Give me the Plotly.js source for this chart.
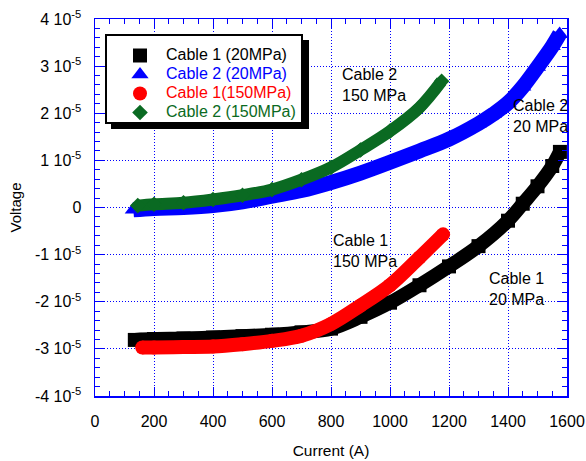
<!DOCTYPE html>
<html><head><meta charset="utf-8">
<script src="https://cdn.plot.ly/plotly-3.0.1.min.js"></script>
<style>html,body{margin:0;padding:0;background:#fff}#chart{width:586px;height:461px}</style>
</head><body><div id="chart"></div>
<script>
// Series names
const names = ['Cable 1 (20MPa)', 'Cable 2 (20MPa)', 'Cable 1(150MPa)', 'Cable 2 (150MPa)'];
// Cable 1 (20MPa)
const c1_20_x = [135, 200, 300, 400, 500, 600, 700, 800, 900, 1000, 1100, 1200, 1300, 1400, 1450, 1500, 1550, 1576];
const c1_20_y = [-2.81e-5, -2.79e-5, -2.78e-5, -2.76e-5, -2.73e-5, -2.70e-5, -2.65e-5, -2.57e-5, -2.32e-5, -2.02e-5, -1.65e-5, -1.25e-5, -0.82e-5, -0.28e-5, 0.08e-5, 0.45e-5, 0.88e-5, 1.18e-5];
// Cable 2 (20MPa)
const c2_20_x = [130, 200, 300, 400, 500, 600, 700, 800, 900, 1000, 1100, 1200, 1300, 1350, 1400, 1450, 1500, 1550, 1575];
const c2_20_y = [-0.05e-5, -0.02e-5, 0.0, 0.04e-5, 0.12e-5, 0.24e-5, 0.36e-5, 0.53e-5, 0.73e-5, 0.96e-5, 1.2e-5, 1.45e-5, 1.78e-5, 1.98e-5, 2.22e-5, 2.56e-5, 2.98e-5, 3.42e-5, 3.68e-5];
// Cable 1 (150MPa)
const c1_150_x = [160, 200, 300, 400, 500, 600, 700, 800, 900, 1000, 1100, 1180];
const c1_150_y = [-2.97e-5, -2.97e-5, -2.96e-5, -2.95e-5, -2.90e-5, -2.83e-5, -2.72e-5, -2.47e-5, -2.08e-5, -1.65e-5, -1.06e-5, -0.57e-5];
// Cable 2 (150MPa)
const c2_150_x = [145, 200, 300, 400, 500, 600, 700, 800, 900, 1000, 1100, 1175];
const c2_150_y = [0.04e-5, 0.07e-5, 0.10e-5, 0.17e-5, 0.26e-5, 0.38e-5, 0.59e-5, 0.85e-5, 1.22e-5, 1.62e-5, 2.12e-5, 2.68e-5];
// Axis ticks
const xTicks = [0, 200, 400, 600, 800, 1000, 1200, 1400, 1600];
const yTickVals = [-4e-5, -3e-5, -2e-5, -1e-5, 0, 1e-5, 2e-5, 3e-5, 4e-5];
const yTickText = ['-4 10<sup>-5</sup>', '-3 10<sup>-5</sup>', '-2 10<sup>-5</sup>', '-1 10<sup>-5</sup>', '0', '1 10<sup>-5</sup>', '2 10<sup>-5</sup>', '3 10<sup>-5</sup>', '4 10<sup>-5</sup>'];

const colors = ['#000000', '#0000ff', '#ff0000', '#0a6a22'];
const symbols = ['square', 'triangle-up', 'circle', 'diamond'];
const msize = [14, 15, 14, 12];
const xs = [c1_20_x, c2_20_x, c1_150_x, c2_150_x];
const ys = [c1_20_y, c2_20_y, c1_150_y, c2_150_y];

const traces = [];
for (let i = 0; i < 4; i++) {
  traces.push({x: xs[i], y: ys[i], mode: 'lines', type: 'scatter', showlegend: false, hoverinfo: 'skip',
    line: {color: colors[i], width: msize[i], shape: 'spline'}});
  traces.push({x: xs[i], y: ys[i], mode: 'markers', type: 'scatter',
    name: '<span style="color:' + colors[i] + ';font-size:16px">' + names[i] + '</span>',
    marker: {color: colors[i], symbol: symbols[i], size: msize[i], line: {width: 0}}});
}

const axisCommon = {
  showline: true, linecolor: '#0000ff', linewidth: 1.5, mirror: 'ticks',
  ticks: 'inside', ticklen: 9, tickwidth: 1, tickcolor: '#0000ff',
  showgrid: true, gridcolor: '#0000ff', gridwidth: 1, griddash: '1px,2px',
  zeroline: false, tickfont: {family: 'Arial, Liberation Sans', size: 16, color: '#000'}
};

const X0 = 95, X1 = 567, Y0 = 19, Y1 = 396;
function px(p) { return (p - X0) / (X1 - X0); }
function py(p) { return (Y1 - p) / (Y1 - Y0); }

const layout = {
  width: 586, height: 461,
  margin: {l: 95, r: 19, t: 19, b: 65},
  paper_bgcolor: '#fff', plot_bgcolor: '#fff',
  font: {family: 'Arial, Liberation Sans', size: 15, color: '#000'},
  xaxis: Object.assign({}, axisCommon, {
    range: [0, 1600], tickmode: 'array', tickvals: xTicks, ticktext: xTicks.map(String),
    minor: {tickmode: 'linear', tick0: 0, dtick: 50, ticks: 'inside', ticklen: 5, tickcolor: '#0000ff', tickwidth: 1, showgrid: false},
    ticklabelstandoff: 10,
    title: {text: 'Current (A)', font: {size: 15.5}, standoff: 16}
  }),
  yaxis: Object.assign({}, axisCommon, {
    range: [-4e-5, 4e-5], tickmode: 'array', tickvals: yTickVals, ticktext: yTickText,
    minor: {tickmode: 'linear', tick0: 0, dtick: 2e-6, ticks: 'inside', ticklen: 5, tickcolor: '#0000ff', tickwidth: 1, showgrid: false},
    ticklabelstandoff: 9,
    title: {text: 'Voltage', font: {size: 15}, standoff: 9}
  }),
  legend: {x: px(114), y: py(41), xanchor: 'left', yanchor: 'top', bgcolor: 'rgba(0,0,0,0)', borderwidth: 0,
    font: {size: 12}, tracegroupgap: 0, itemwidth: 42},
  shapes: [
    {type: 'rect', xref: 'paper', yref: 'paper', x0: px(111), x1: px(309), y0: py(129), y1: py(40), fillcolor: '#000', line: {width: 0}, layer: 'above'},
    {type: 'rect', xref: 'paper', yref: 'paper', x0: px(106), x1: px(302), y0: py(123), y1: py(35), fillcolor: '#fff', line: {color: '#000', width: 2}, layer: 'above'}
  ],
  annotations: [
    {x: 830, y: 2.6e-5, text: 'Cable 2<br>150 MPa'},
    {x: 1410, y: 1.945e-5, text: 'Cable 2<br>20 MPa'},
    {x: 800, y: -0.93e-5, text: 'Cable 1<br>150 MPa'},
    {x: 1329, y: -1.73e-5, text: 'Cable 1<br>20 MPa'}
  ].map(a => Object.assign(a, {xref: 'x', yref: 'y', xanchor: 'left', yanchor: 'middle', align: 'left', showarrow: false, font: {size: 16, color: '#000'}}))
};

Plotly.newPlot('chart', traces, layout, {displayModeBar: false, staticPlot: true});
</script>
</body></html>
